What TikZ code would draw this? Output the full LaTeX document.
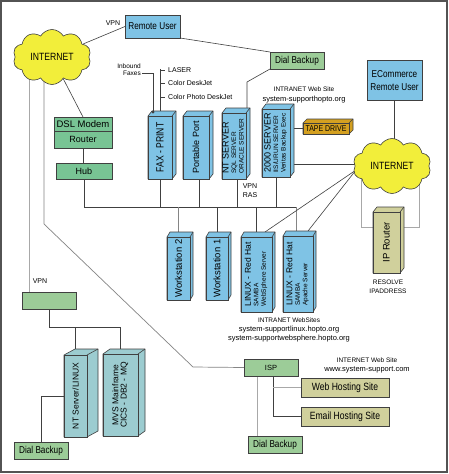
\documentclass[tikz,border=0pt]{standalone}
\usepackage{fontspec}
\setmainfont{Liberation Sans}
\newfontfamily\cond{Liberation Sans}[FakeStretch=0.82]
\usepackage{graphicx}
\usetikzlibrary{shapes.symbols}
\pgfdeclarelayer{bg}
\pgfdeclarelayer{lines}
\pgfsetlayers{bg,lines,main}
\definecolor{boxblue}{HTML}{7FC3E5}
\definecolor{dslgreen}{HTML}{78C494}
\definecolor{ltgreen}{HTML}{9CCC98}
\definecolor{mvsteal}{HTML}{9CCCD0}
\definecolor{khakibox}{HTML}{D0D09C}
\definecolor{tapegold}{HTML}{D4A020}
\definecolor{cloudyel}{HTML}{F2EE3A}
\definecolor{edge}{HTML}{404040}
\definecolor{lgray}{HTML}{A8A8A8}
\definecolor{mgray}{HTML}{858585}
\newcommand\fsz[1]{\fontsize{#1}{#1}\selectfont}
\newcommand\rstack[2][l]{\rotatebox{90}{\fontsize{6.5}{7.5}\selectfont\begin{tabular}{@{}#1@{}}#2\end{tabular}}}
\newcommand\cubebox[9]{%
  \filldraw[face, fill=#8] ({#2-#4/2},{#3-#5/2}) -- ++(#6,-#7) -- ++(#4,0) -- ++(0,#5) -- ++(-#6,#7) -- ++(-#4,0) -- cycle;
  \node[flat, fill=#8, minimum width=#4pt, minimum height=#5pt] (#1) at (#2,#3) {#9};
  \draw[face] (#1.north east) -- ++(#6,-#7);
}
\begin{document}
\begin{tikzpicture}[x=1pt,y=-1pt,
  flat/.style={draw=edge, line width=0.7pt, inner sep=0pt, outer sep=0pt},
  face/.style={draw=edge, line width=0.6pt, line join=round},
  ln/.style={draw=edge, line width=0.6pt},
  lnl/.style={draw=lgray, line width=0.8pt},
  lnd/.style={draw=mgray, line width=0.7pt},
  lbl/.style={inner sep=0pt, align=center},
  cloudst/.style={cloud, cloud puffs=10, cloud puff arc=120, aspect=1.4, fill=cloudyel, draw=edge, line width=0.6pt, inner sep=0pt, minimum width=78pt, minimum height=55pt}]
\useasboundingbox (0,0) rectangle (449,474);
\begin{pgfonlayer}{bg}
  \fill[white] (0,0) rectangle (449,474);
  \draw[draw=edge!90, line width=1.3pt] (1,1) rectangle (447,472);
\end{pgfonlayer}

% clouds
\node[cloudst] (cloudL) at (52,57) {\cond\fsz{10.5}INTERNET};
\node[cloudst] (cloudR) at (392,166) {\cond\fsz{10.5}INTERNET};

% flat boxes
\node[flat, fill=boxblue, minimum width=55pt, minimum height=23pt, font=\cond\fsz{10}] (remote) at (152.5,26.5) {Remote User};
\node[lbl, font=\fsz{7}] (vpnT) at (113,23) {VPN};
\node[flat, fill=ltgreen, minimum width=54pt, minimum height=17pt, font=\cond\fsz{10}] (dialT) at (297,60.5) {Dial Backup};
\node[flat, fill=boxblue, minimum width=55pt, minimum height=40pt, align=center, font=\cond\fontsize{10}{13}\selectfont] (ecom) at (394.5,80.5) {ECommerce\\Remote User};
\node[lbl, font=\fontsize{7.5}{9.5}\selectfont] (intraT) at (304,95) {{\fsz{6.5}INTRANET Web Site}\\system-supporthopto.org};

\node[lbl, align=right, anchor=east, font=\fontsize{6.5}{7.5}\selectfont] (inbound) at (141,69.5) {Inbound\\Faxes};
\node[lbl, anchor=west, font=\fsz{7}] (laser) at (168,70) {LASER};
\node[lbl, anchor=west, font=\fsz{7}] (cdj) at (168,83) {Color DeskJet};
\node[lbl, anchor=west, font=\fsz{7}] (cpdj) at (168,97) {Color Photo DeskJet};

\node[flat, fill=dslgreen, minimum width=58pt, minimum height=14pt, font=\fsz{9.5}] (dsl) at (83,124) {DSL Modem};
\node[flat, fill=dslgreen, minimum width=58pt, minimum height=17pt, font=\fsz{9}] (router) at (83,139.5) {Router};
\node[flat, fill=dslgreen, minimum width=56pt, minimum height=16pt, font=\fsz{9}] (hub) at (84,171) {Hub};

\node[lbl, font=\fontsize{7}{9}\selectfont] (vpnras) at (250,191) {VPN\\RAS};
\node[lbl, font=\fontsize{6.5}{8.5}\selectfont] (resolve) at (388,287) {RESOLVE\\IPADDRESS};
\node[lbl, font=\fsz{7}] (vpnL) at (40,281) {VPN};
\node[flat, fill=ltgreen, minimum width=54pt, minimum height=17pt] (vpnbox) at (49,300.5) {};
\node[flat, fill=ltgreen, minimum width=54pt, minimum height=17pt, font=\cond\fsz{10}] (dialL) at (41,450.5) {Dial Backup};

\node[lbl, font=\fontsize{7.5}{9}\selectfont] (intraWS) at (289,330) {{\fsz{6.5}INTRANET WebSites}\\system-supportlinux.hopto.org\\system-supportwebsphere.hopto.org};
\node[lbl, font=\fontsize{7.5}{9}\selectfont] (interWS) at (367,365.5) {{\fsz{6.5}INTERNET Web Site}\\www.system-support.com};

\node[flat, fill=ltgreen, minimum width=54pt, minimum height=17pt, font=\fsz{7.5}] (isp) at (271,367.5) {ISP};
\node[flat, fill=khakibox, minimum width=88pt, minimum height=19pt, font=\cond\fsz{10.5}] (web) at (345,387.5) {Web Hosting Site};
\node[flat, fill=khakibox, minimum width=88pt, minimum height=19pt, font=\cond\fsz{10.5}] (email) at (345,416.5) {Email Hosting Site};
\node[flat, fill=ltgreen, minimum width=54pt, minimum height=17pt, font=\cond\fsz{10}] (dialB) at (275,444.5) {Dial Backup};

% 3D boxes
\cubebox{fax}{160}{147.5}{24}{63}{4}{5}{boxblue}{\rotatebox{90}{\cond\fsz{10.5}FAX - PRINT}}
\cubebox{port}{196}{147.5}{26}{63}{4}{5}{boxblue}{\rotatebox{90}{\fsz{9}Portable Port}}
\cubebox{nt}{234}{146}{24}{66}{4}{5}{boxblue}{\rstack{\fsz{9}NT SERVER\\SQL SERVER\\ORACLE SERVER}}
\cubebox{w2k}{276}{143}{28}{68}{4}{5}{boxblue}{\rstack{\fsz{9}2000 SERVER\\IIS/URUN SERVER\\Veritas Backup Exec}}
\cubebox{tape}{326}{128.5}{46}{11}{4}{4}{tapegold}{\cond\fsz{8.5}TAPE DRIVE}
\cubebox{ws2}{178.5}{268.5}{23}{63}{3}{5}{boxblue}{\rotatebox{90}{\fsz{9.5}Workstation 2}}
\cubebox{ws1}{217}{268.5}{22}{63}{3}{5}{boxblue}{\rotatebox{90}{\fsz{9.5}Workstation 1}}
\cubebox{lin1}{256.5}{274.5}{31}{75}{3}{5}{boxblue}{\rstack{\fsz{8.5}LINUX - Red Hat\\SAMBA\\WebSphere Server}}
\cubebox{lin2}{298}{274}{30}{76}{3}{5}{boxblue}{\rstack{\fsz{8.5}LINUX - Red Hat\\SAMBA\\Apache Server}}
\cubebox{iprouter}{386.5}{242.5}{27}{61}{4}{5}{khakibox}{\rotatebox{90}{\fsz{9.5}IP Router}}
\cubebox{ntlinux}{75.5}{396}{23}{82}{11}{6}{mvsteal}{\rotatebox{90}{\fsz{8.5}NT Server/LINUX}}
\cubebox{mvs}{120.5}{395}{35}{82}{7}{5}{mvsteal}{\rstack[c]{\fsz{8.5}MVS Mainframe\\\fsz{8.5}CICS - DB2 - MQ}}

% coordinates
\coordinate (ntbend) at (247,82);
\coordinate (fin) at (153,73);
\coordinate (findot) at (153,112);
\coordinate (ptop) at (160,69);
\coordinate (vx) at (29,60);
\coordinate (dx) at (44,60);
\coordinate (dg1) at (44,224);
\coordinate (dg2) at (193,367);
\coordinate (busL) at (83,207);
\coordinate (busR) at (296,207);
\coordinate (cRl) at (356,170);
\coordinate (ipl) at (361,227);
\coordinate (ipr) at (419,227);
\coordinate (vj) at (48,327);

\fill[edge] (findot) circle (1.6);

\begin{pgfonlayer}{lines}
  \draw[ln] (cloudL) -- (remote.west);
  \draw[ln] (remote.south east) -- (dialT.north west);
  \draw[ln] (dialT.south west) -- (ntbend) -- (ntbend |- nt.north);
  \draw[ln] (cloudL) -- (dsl.north);
  \draw[lnl] (vx) -- (vx |- vpnbox.north);
  \draw[lnd] (dx) -- (dg1) -- (dg2) -- (isp.west);
  \draw[ln] (router.south) -- (router.south |- hub.north);
  \draw[ln] (hub.south) -- (hub.south |- busL) -- (busR);
  % printers / faxes
  \draw[ln] (ptop) -- (ptop |- fax.north);
  \draw[ln] (ptop |- laser.west) -- ([xshift=-3pt]laser.west);
  \draw[ln] (ptop |- cdj.west) -- ([xshift=-3pt]cdj.west);
  \draw[ln] (ptop |- cpdj.west) -- ([xshift=-3pt]cpdj.west);
  \draw[ln] ([xshift=1pt]inbound.east |- fin) -- (fin) -- (findot);
  % bus drops
  \draw[ln] (fax.south) -- (fax.south |- busL);
  \draw[ln] ([xshift=3pt]port.south) -- ([xshift=3pt]port.south |- busL);
  \draw[ln] ([xshift=3pt]nt.south) -- ([xshift=3pt]nt.south |- busL);
  \draw[ln] (w2k.south) -- (w2k.south |- busL);
  \draw[lnd] (ws2.north |- busL) -- (ws2.north);
  \draw[ln] (ws1.north |- busL) -- (ws1.north);
  \draw[ln] (lin1.north |- busL) -- (lin1.north);
  \draw[lnd] ([xshift=-2pt]lin2.north |- busL) -- ([xshift=-2pt]lin2.north);
  % right side
  \draw[ln] (tape.west -| w2k.east) -- (tape.west);
  \draw[ln] ([yshift=2pt]w2k.east |- cloudR.center) -- ([yshift=2pt]cloudR.center);
  \draw[ln] (ecom.south) -- (ecom.south |- cloudR.center);
  \draw[ln] (cRl) -- ([xshift=8.5pt,yshift=5pt]lin1.north);
  \draw[ln] (cRl) -- ([xshift=10pt,yshift=5pt]lin2.north);
  \draw[lnl] (ipl |- cloudR.center) -- (ipl) -- (ipl -| iprouter.west);
  \draw[lnl] (ipr |- cloudR.center) -- (ipr) -- (ipr -| iprouter.east);
  % lower left
  \draw[ln] (vpnbox.south) -- (vpnbox.south |- vj) -| (mvs.north);
  \draw[ln] (ntlinux.north |- vj) -- (ntlinux.north);
  \draw[ln] (ntlinux.west) -| (dialL.north);
  % ISP
  \draw[ln] ([xshift=2pt]isp.south) |- (email.west);
  \draw[lnl] ([xshift=2pt]isp.south |- web.west) -- (web.west);
  \draw[lnl] ([xshift=-14pt]isp.south) -- ([xshift=-14pt]isp.south |- dialB.north);
\end{pgfonlayer}
\end{tikzpicture}
\end{document}
